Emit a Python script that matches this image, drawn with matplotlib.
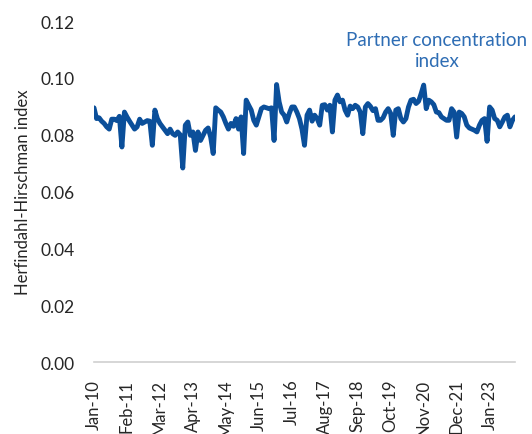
import matplotlib
matplotlib.use("Agg")
import matplotlib.pyplot as plt
import numpy as np

tick_labels = ["Jan-10", "Feb-11", "Mar-12", "Apr-13", "May-14", "Jun-15", "Jul-16",
               "Aug-17", "Sep-18", "Oct-19", "Nov-20", "Dec-21", "Jan-23"]
y_ticks = [0.00, 0.02, 0.04, 0.06, 0.08, 0.10, 0.12]

# Monthly HHI, Jan-2010 .. Nov-2023
hhi = [
    0.0895, 0.0857, 0.0860, 0.0848, 0.0840, 0.0828, 0.0820, 0.0855, 0.0855, 0.0850,
    0.0865, 0.0757, 0.0880, 0.0863, 0.0848, 0.0834, 0.0820, 0.0828, 0.0855, 0.0840,
    0.0845, 0.0850, 0.0848, 0.0763, 0.0887, 0.0857, 0.0840, 0.0828, 0.0816, 0.0804,
    0.0820, 0.0804, 0.0798, 0.0810, 0.0800, 0.0683, 0.0834, 0.0845, 0.0798, 0.0810,
    0.0745, 0.0810, 0.0780, 0.0798, 0.0816, 0.0824, 0.0792, 0.0734, 0.0895, 0.0887,
    0.0880, 0.0863, 0.0840, 0.0820, 0.0840, 0.0830, 0.0857, 0.0820, 0.0863, 0.0734,
    0.0922, 0.0904, 0.0887, 0.0851, 0.0834, 0.0863, 0.0892, 0.0898, 0.0895, 0.0892,
    0.0895, 0.0780, 0.0977, 0.0916, 0.0880, 0.0869, 0.0845, 0.0875, 0.0898, 0.0898,
    0.0880, 0.0857, 0.0820, 0.0763, 0.0869, 0.0887, 0.0848, 0.0869, 0.0857, 0.0834,
    0.0904, 0.0906, 0.0887, 0.0904, 0.0810, 0.0922, 0.0940, 0.0916, 0.0922, 0.0887,
    0.0869, 0.0901, 0.0892, 0.0904, 0.0898, 0.0880, 0.0804, 0.0898, 0.0910, 0.0900,
    0.0885, 0.0892, 0.0851, 0.0851, 0.0860, 0.0880, 0.0892, 0.0875, 0.0798, 0.0887,
    0.0892, 0.0857, 0.0845, 0.0857, 0.0898, 0.0922, 0.0925, 0.0910, 0.0918, 0.0945,
    0.0975, 0.0892, 0.0922, 0.0916, 0.0906, 0.0880, 0.0878, 0.0863, 0.0857, 0.0851,
    0.0851, 0.0892, 0.0880, 0.0792, 0.0880, 0.0875, 0.0863, 0.0834, 0.0824, 0.0820,
    0.0816, 0.0810, 0.0834, 0.0851, 0.0857, 0.0777, 0.0898, 0.0887, 0.0857, 0.0851,
    0.0828, 0.0845, 0.0863, 0.0869, 0.0828, 0.0851, 0.0863,
]

font = "Lato"
plt.rcParams["font.family"] = [font, "DejaVu Sans"]

fig = plt.figure(figsize=(5.32, 4.35), dpi=100)
ax = fig.add_axes([0.1767, 0.1655, 0.7913, 0.7835])

x = np.arange(len(hhi))
ax.plot(x, hhi, color="#0B4F9A", linewidth=3.5, solid_joinstyle="round",
        solid_capstyle="round")

ax.set_xlim(0, len(hhi) - 1)
ax.set_ylim(0, 0.12)
ax.set_yticks(y_ticks)
ax.set_yticklabels([f"{v:.2f}" for v in y_ticks], fontsize=12.5, color="#262626")
ax.set_xticks(np.arange(0, 13 * len(tick_labels), 13))
ax.set_xticklabels(tick_labels, rotation=90, fontsize=12, color="#262626")
ax.tick_params(axis="both", length=0)
ax.tick_params(axis="y", pad=14)
ax.tick_params(axis="x", pad=12)

for s in ["top", "right", "left"]:
    ax.spines[s].set_visible(False)
ax.spines["bottom"].set_color("#D0D0D0")
ax.spines["bottom"].set_linewidth(1.2)

ax.set_ylabel("Herfindahl-Hirschman index", fontsize=12, color="#262626", labelpad=7)

fig.text(437 / 532, 1 - 32 / 435, "Partner concentration\nindex",
         ha="center", va="top", fontsize=13.5, color="#2E6DB4", linespacing=1.3)

fig.savefig("out.png", dpi=100)
